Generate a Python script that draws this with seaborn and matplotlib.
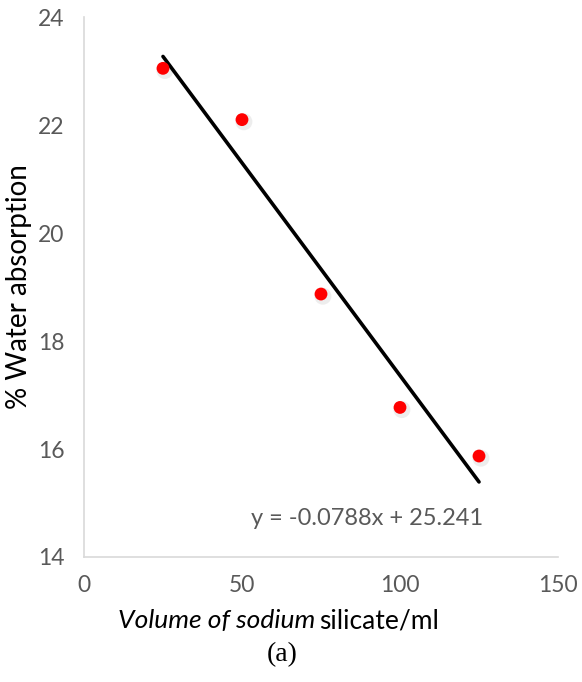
import matplotlib
matplotlib.use("Agg")
import matplotlib.pyplot as plt
import seaborn as sns
from matplotlib.offsetbox import TextArea, HPacker, AnchoredOffsetbox

# data
volume_ml = [25, 50, 75, 100, 125]
water_absorption = [23.05, 22.1, 18.87, 16.77, 15.87]
trend_x = [25, 125]
trend_y = [23.27, 15.39]
equation = "y = -0.0788x + 25.241"
x_ticks = [0, 50, 100, 150]
y_ticks = [14, 16, 18, 20, 22, 24]

sns.set_style("white")
plt.rcParams['font.family'] = ['Lato', 'DejaVu Sans']

fig = plt.figure(figsize=(5.82, 6.82), dpi=100)
ax = fig.add_axes([0.1443, 0.1833, 0.8145, 0.7917])

sns.lineplot(x=trend_x, y=trend_y, ax=ax, color="black", linewidth=2.6)
# soft shadow under the markers
sns.scatterplot(x=[v + 0.6 for v in volume_ml], y=[v - 0.04 for v in water_absorption],
                ax=ax, s=150, color="#bbbbbb", alpha=0.25, edgecolor="none")
sns.scatterplot(x=volume_ml, y=water_absorption, ax=ax, s=85, color="#ff0000",
                edgecolor="none", zorder=3)

ax.set_xlim(0, 150)
ax.set_ylim(14, 24)
ax.set_xticks(x_ticks)
ax.set_yticks(y_ticks)
ax.tick_params(axis="both", colors="#d9d9d9", labelcolor="#595959", labelsize=16.5,
               length=5, width=1)
ax.tick_params(axis="x", direction="in", pad=13)
ax.tick_params(axis="y", direction="out", pad=9)
for side in ["top", "right"]:
    ax.spines[side].set_visible(False)
for side in ["left", "bottom"]:
    ax.spines[side].set_color("#d9d9d9")
    ax.spines[side].set_linewidth(1.2)

ax.text(89.5, 14.72, equation, ha="center", va="center", fontsize=17, color="#595959")

ax.set_ylabel("% Water absorption", fontsize=20, color="black", labelpad=3)
ax.yaxis.set_label_coords(-0.11, 0.5)

# x label: italic part + regular part
t1 = TextArea("Volume of sodium", textprops=dict(fontsize=19, style="italic", color="black"))
t2 = TextArea("silicate/ml", textprops=dict(fontsize=19, color="black"))
box = HPacker(children=[t1, t2], align="baseline", pad=0, sep=3)
anch = AnchoredOffsetbox(loc="center", child=box, frameon=False,
                         bbox_to_anchor=(0.479, 0.09), bbox_transform=fig.transFigure)
fig.add_artist(anch)

fig.text(0.485, 0.04, "(a)", ha="center", va="center", fontsize=20,
         family="Liberation Serif", color="black")

fig.savefig("out.png", dpi=100)
